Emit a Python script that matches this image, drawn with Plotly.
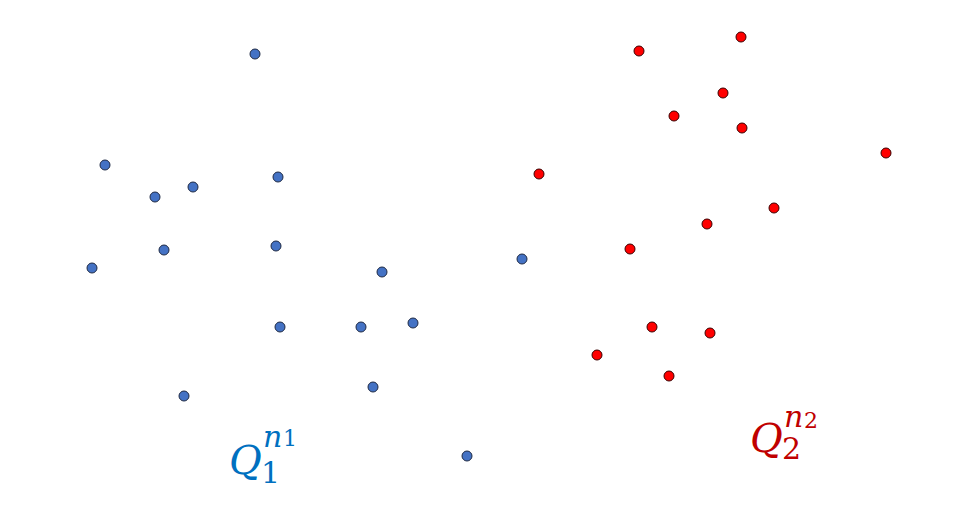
import plotly.graph_objects as go

# point positions (in the chart's own 968 x 512 coordinate space, y downward)
blue_x = [255, 105, 155, 193, 278, 164, 276, 92, 382, 522, 280, 361, 413, 184, 373, 467]
blue_y = [53, 164, 196, 186, 176, 249, 245, 267, 271, 258, 326, 326, 322, 395, 386, 455]

red_x = [639, 741, 723, 674, 742, 886, 539, 774, 707, 630, 652, 710, 597, 669]
red_y = [50, 36, 92, 115, 127, 152, 173, 207, 223, 248, 326, 332, 354, 375]

fig = go.Figure()
fig.add_trace(go.Scatter(x=blue_x, y=blue_y, mode="markers",
                         marker=dict(size=10, color="#4472C4", line=dict(color="#1F2A44", width=1)),
                         showlegend=False, hoverinfo="skip"))
fig.add_trace(go.Scatter(x=red_x, y=red_y, mode="markers",
                         marker=dict(size=10, color="#FF0000", line=dict(color="#3A0000", width=1)),
                         showlegend=False, hoverinfo="skip"))

FONT = "DejaVu Serif"

def label(qr, qy, ny, sy, uy, sub, col):
    anns = [
        dict(x=qr + 3, y=qy, text="<i>Q</i>", xanchor="right",
             font=dict(size=40, color=col, family=FONT)),
        dict(x=qr + 2, y=ny, text="<i>n</i>", xanchor="left",
             font=dict(size=30, color=col, family=FONT)),
        dict(x=qr + 22, y=sy, text=sub, xanchor="left",
             font=dict(size=22, color=col, family=FONT)),
        dict(x=qr, y=uy, text=sub, xanchor="left",
             font=dict(size=30, color=col, family=FONT)),
    ]
    for a in anns:
        a.update(xref="x", yref="y", showarrow=False, yanchor="middle", borderpad=0)
    return anns

annotations = (label(260, 459, 435, 437, 471, "1", "#0070C0")
               + label(781, 437, 415, 419, 447, "2", "#C00000"))

# the page places the figure 8 px from the top-left corner
fig.update_layout(
    width=960, height=504,
    margin=dict(l=0, r=0, t=0, b=0),
    plot_bgcolor="white", paper_bgcolor="white",
    xaxis=dict(range=[8, 968], visible=False),
    yaxis=dict(range=[511, 7], visible=False),
    annotations=annotations,
)
fig.write_html("out.html")
